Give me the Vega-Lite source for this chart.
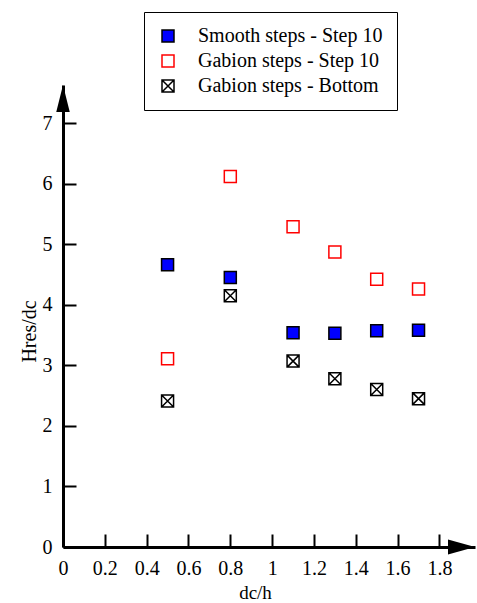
{
  "$schema": "https://vega.github.io/schema/vega-lite/v6.json",
  "width": 412,
  "height": 462,
  "autosize": {"type": "none"},
  "padding": {"left": 63, "top": 85, "right": 2, "bottom": 56},
  "background": "white",
  "config": {"view": {"stroke": null}, "font": "Liberation Serif"},
  "datasets": {
    "points": [
      {"series": "Smooth steps - Step 10", "dc_h": 0.5, "hres_dc": 4.66},
      {"series": "Smooth steps - Step 10", "dc_h": 0.8, "hres_dc": 4.45},
      {"series": "Smooth steps - Step 10", "dc_h": 1.1, "hres_dc": 3.54},
      {"series": "Smooth steps - Step 10", "dc_h": 1.3, "hres_dc": 3.53},
      {"series": "Smooth steps - Step 10", "dc_h": 1.5, "hres_dc": 3.57},
      {"series": "Smooth steps - Step 10", "dc_h": 1.7, "hres_dc": 3.58},
      {"series": "Gabion steps - Step 10", "dc_h": 0.5, "hres_dc": 3.11},
      {"series": "Gabion steps - Step 10", "dc_h": 0.8, "hres_dc": 6.12},
      {"series": "Gabion steps - Step 10", "dc_h": 1.1, "hres_dc": 5.29},
      {"series": "Gabion steps - Step 10", "dc_h": 1.3, "hres_dc": 4.87},
      {"series": "Gabion steps - Step 10", "dc_h": 1.5, "hres_dc": 4.42},
      {"series": "Gabion steps - Step 10", "dc_h": 1.7, "hres_dc": 4.26},
      {"series": "Gabion steps - Bottom", "dc_h": 0.5, "hres_dc": 2.41},
      {"series": "Gabion steps - Bottom", "dc_h": 0.8, "hres_dc": 4.15},
      {"series": "Gabion steps - Bottom", "dc_h": 1.1, "hres_dc": 3.07},
      {"series": "Gabion steps - Bottom", "dc_h": 1.3, "hres_dc": 2.78},
      {"series": "Gabion steps - Bottom", "dc_h": 1.5, "hres_dc": 2.6},
      {"series": "Gabion steps - Bottom", "dc_h": 1.7, "hres_dc": 2.45}
    ],
    "arrows": [
      {"ax": 0, "ay": 7.63, "shape": "M0,0L0.5,2L-0.5,2Z"},
      {"ax": 1.97, "ay": 0, "shape": "M0,0L-2,-0.55L-2,0.55Z"}
    ]
  },
  "layer": [
    {
      "data": {"name": "points"},
      "mark": {"type": "point", "filled": true, "size": 144, "strokeWidth": 1.5, "opacity": 1},
      "encoding": {
        "x": {
          "field": "dc_h", "type": "quantitative",
          "scale": {"domain": [0, 1.97], "nice": false, "zero": true},
          "axis": {
            "values": [0, 0.2, 0.4, 0.6, 0.8, 1, 1.2, 1.4, 1.6, 1.8],
            "format": "~g",
            "grid": false, "domainWidth": 3, "domainColor": "black",
            "tickSize": -13, "tickWidth": 2, "tickColor": "black",
            "labelFontSize": 20, "labelColor": "black", "labelPadding": 24,
            "labelFlush": false, "labelOverlap": false, "labelBaseline": "top",
            "title": "dc/h", "titleFontSize": 19, "titleFontWeight": "normal", "titleColor": "black",
            "titleX": 192, "titleY": 51, "titleBaseline": "alphabetic"
          }
        },
        "y": {
          "field": "hres_dc", "type": "quantitative",
          "scale": {"domain": [0, 7.63], "nice": false, "zero": true},
          "axis": {
            "values": [0, 1, 2, 3, 4, 5, 6, 7],
            "format": "d",
            "grid": false, "domainWidth": 3, "domainColor": "black",
            "tickSize": -13, "tickWidth": 2, "tickColor": "black",
            "labelFontSize": 20, "labelColor": "black", "labelPadding": 24,
            "labelFlush": false, "labelOverlap": false,
            "title": "Hres/dc", "titleFontSize": 20, "titleFontWeight": "normal", "titleColor": "black",
            "titleX": -28, "titleY": 246, "titleBaseline": "alphabetic"
          }
        },
        "fill": {
          "field": "series", "type": "nominal",
          "scale": {"domain": ["Smooth steps - Step 10", "Gabion steps - Step 10", "Gabion steps - Bottom"], "range": ["#0000ff", "#ffffff", "#ffffff"]},
          "legend": {"title": null, "orient": "none", "legendX": 81, "legendY": -73, "padding": 14, "strokeColor": "black", "labelFontSize": 20, "labelColor": "black", "labelOffset": 20, "labelLimit": 400, "rowPadding": 5, "symbolSize": 144, "symbolStrokeWidth": 1.5,
            "encode": {"legend": {"update": {"strokeWidth": {"value": 3}}}}}
        },
        "stroke": {
          "field": "series", "type": "nominal",
          "scale": {"domain": ["Smooth steps - Step 10", "Gabion steps - Step 10", "Gabion steps - Bottom"], "range": ["#000000", "#ff0000", "#000000"]},
          "legend": {"title": null, "orient": "none", "legendX": 81, "legendY": -73, "padding": 14, "strokeColor": "black", "labelFontSize": 20, "labelColor": "black", "labelOffset": 20, "labelLimit": 400, "rowPadding": 5, "symbolSize": 144, "symbolStrokeWidth": 1.5,
            "encode": {"legend": {"update": {"strokeWidth": {"value": 3}}}}}
        },
        "shape": {
          "field": "series", "type": "nominal",
          "scale": {"domain": ["Smooth steps - Step 10", "Gabion steps - Step 10", "Gabion steps - Bottom"], "range": ["square", "square", "M-1,-1H1V1H-1Z M-1,-1L1,1 M-1,1L1,-1"]},
          "legend": {"title": null, "orient": "none", "legendX": 81, "legendY": -73, "padding": 14, "strokeColor": "black", "labelFontSize": 20, "labelColor": "black", "labelOffset": 20, "labelLimit": 400, "rowPadding": 5, "symbolSize": 144, "symbolStrokeWidth": 1.5,
            "encode": {"legend": {"update": {"strokeWidth": {"value": 3}}}}}
        }
      }
    },
    {
      "data": {"name": "arrows"},
      "mark": {"type": "point", "filled": true, "color": "black", "strokeWidth": 0, "size": 729, "opacity": 1},
      "encoding": {
        "x": {"field": "ax", "type": "quantitative"},
        "y": {"field": "ay", "type": "quantitative"},
        "shape": {"field": "shape", "type": "nominal", "scale": null}
      }
    }
  ]
}
